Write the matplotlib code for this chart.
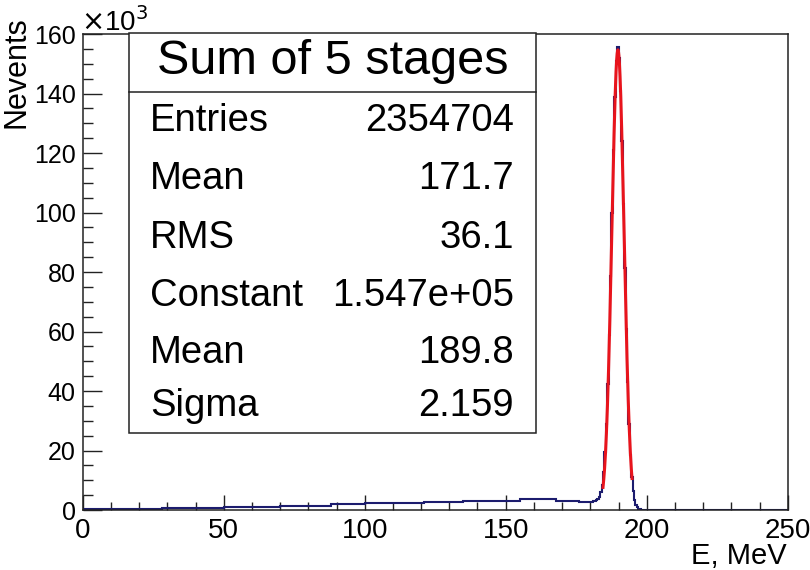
import numpy as np
import matplotlib
matplotlib.use("Agg")
import matplotlib.pyplot as plt
from matplotlib.ticker import MultipleLocator
from matplotlib.patches import Rectangle

plt.rcParams['font.family'] = ['Liberation Sans', 'DejaVu Sans']

# histogram (counts in units of 10^3), background part: coarse steps
bg_edges = [0, 28, 50, 70, 88, 100, 107, 121, 135, 155, 168, 176, 180]
bg_counts = [0.3, 0.6, 0.9, 1.45, 1.9, 2.2, 2.5, 2.8, 3.1, 3.6, 2.9, 2.8]

# peak part: 0.5 MeV bins from 180 to 200
peak_start, peak_width = 180.0, 0.5
peak_counts = [2.8, 2.8, 2.9, 3.0, 3.2, 3.6, 4.4, 5.9, 8.5, 12.8,
               19.4, 29.0, 42.2, 59.0, 78.8, 100.0, 121.0, 139.0, 151.0, 155.5,
               152.0, 141.0, 124.0, 103.0, 81.5, 61.0, 43.2, 29.0, 18.5, 11.2,
               6.4, 3.4, 1.8, 0.9, 0.5, 0.3, 0.1, 0.05, 0.02, 0.01]

# gaussian fit result (from stats box)
fit_const, fit_mean, fit_sigma = 154.7, 189.8, 2.159
fit_range = [184.5, 194.8]

stats_title = "Sum of 5 stages"
stats_names = ["Entries", "Mean", "RMS", "Constant", "Mean", "Sigma"]
stats_values = ["2354704", "171.7", "36.1", "1.547e+05", "189.8", "2.159"]

W, H = 810, 570
fig = plt.figure(figsize=(W / 100, H / 100), dpi=100)

def fx(x):
    return x / W

def fy(y):
    return 1 - y / H

ax = fig.add_axes([fx(82.7), fy(510), fx(787.7) - fx(82.7), fy(33.5) - fy(510)])

edges = bg_edges + [peak_start + peak_width * (i + 1) for i in range(len(peak_counts))] + [250]
counts = bg_counts + peak_counts + [0.0]
ax.stairs(counts, edges, color="#1c1c6e", lw=1.5, zorder=2)

xf = np.linspace(fit_range[0], fit_range[1], 400)
yf = fit_const * np.exp(-0.5 * ((xf - fit_mean) / fit_sigma) ** 2)
ax.plot(xf, yf, color="#e8141c", lw=2.2, zorder=3)

ax.set_xlim(0, 250)
ax.set_ylim(0, 160.2)
ax.xaxis.set_major_locator(MultipleLocator(50))
ax.xaxis.set_minor_locator(MultipleLocator(10))
ax.yaxis.set_major_locator(MultipleLocator(20))
ax.yaxis.set_minor_locator(MultipleLocator(5))
ax.tick_params(axis="both", which="both", direction="in", top=False, right=False,
               width=1.0, color="#222222")
ax.tick_params(axis="y", which="major", length=14, labelsize=18, pad=5)
ax.tick_params(axis="y", which="minor", length=7.5)
ax.tick_params(axis="x", which="major", length=11, labelsize=20, pad=6)
ax.tick_params(axis="x", which="minor", length=5.5)
for s in ax.spines.values():
    s.set_linewidth(1.1)
    s.set_color("#222222")

# axis titles, ROOT style
fig.text(fx(787), fy(556), "E, MeV", ha="right", va="center", fontsize=21)
fig.text(fx(17), fy(16), "Nevents", rotation=90, ha="center", va="top", fontsize=22)
fig.text(fx(81), fy(31), r"$\times$10$^{3}$", ha="left", va="baseline", fontsize=20)

# stats box
box_l, box_r, box_t, box_b = 129, 536, 33.5, 433
fig.patches.append(Rectangle((fx(box_l), fy(box_b)), fx(box_r) - fx(box_l), fy(box_t) - fy(box_b),
                             transform=fig.transFigure, facecolor="white", edgecolor="#222222",
                             lw=1.1, zorder=4))
fig.add_artist(plt.Line2D([fx(box_l), fx(box_r)], [fy(92), fy(92)], transform=fig.transFigure,
                          color="#222222", lw=1.1, zorder=5))
fig.text(fx((box_l + box_r) / 2), fy(61), stats_title, ha="center", va="center", fontsize=35, zorder=6)
row_y = [121, 179, 238, 296, 353, 406]
for name, val, y in zip(stats_names, stats_values, row_y):
    fig.text(fx(150), fy(y), name, ha="left", va="center", fontsize=27.5, zorder=6)
    fig.text(fx(514), fy(y), val, ha="right", va="center", fontsize=27.5, zorder=6)

fig.savefig("out.png", dpi=100)
